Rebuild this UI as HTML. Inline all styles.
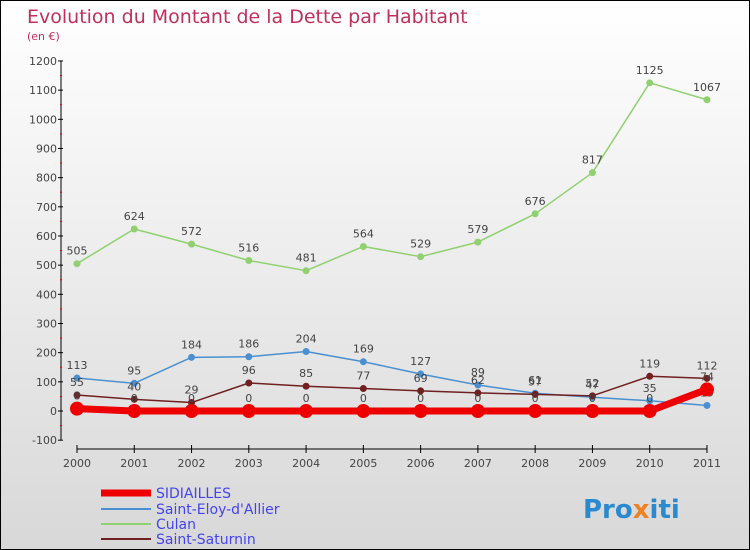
<!DOCTYPE html>
<html><head><meta charset="utf-8"><style>
body{margin:0}
#c{width:750px;height:550px;position:relative;box-sizing:border-box;border:1px solid #000;background:linear-gradient(#fff,#d8d8d8);font-family:"DejaVu Sans","Liberation Sans",sans-serif;overflow:hidden}
text{font-family:"DejaVu Sans","Liberation Sans",sans-serif}
</style></head><body>
<div id="c">
<svg id="s" width="750" height="550">
<text x="26" y="22" font-size="19" fill="#c0305a">Evolution du Montant de la Dette par Habitant</text>
<text x="26" y="39" font-size="11" fill="#c0305a">(en €)</text>
<g id="axes"></g><g id="series"></g>
<g>
<line x1="100" y1="492" x2="150" y2="492" stroke="#e00" stroke-width="7"/><text x="155" y="497" font-size="14" fill="#4444ee">SIDIAILLES</text>
<line x1="100" y1="508" x2="150" y2="508" stroke="#4a90d0" stroke-width="2"/><text x="155" y="513" font-size="14" fill="#4444ee">Saint-Eloy-d'Allier</text>
<line x1="100" y1="523" x2="150" y2="523" stroke="#90d070" stroke-width="2"/><text x="155" y="528" font-size="14" fill="#4444ee">Culan</text>
<line x1="100" y1="538" x2="150" y2="538" stroke="#702020" stroke-width="2"/><text x="155" y="543" font-size="14" fill="#4444ee">Saint-Saturnin</text>
</g>
<text x="582" y="517" font-size="26" font-weight="bold" fill="#2a8ad0">Pro<tspan fill="#f08020">x</tspan>iti</text>
</svg></div>
<script>
const years=[2000,2001,2002,2003,2004,2005,2006,2007,2008,2009,2010,2011];
const sidiailles=[8,0,0,0,0,0,0,0,0,0,0,74];
const saintEloy=[113,95,184,186,204,169,127,89,61,47,35,19];
const culan=[505,624,572,516,481,564,529,579,676,817,1125,1067];
const saintSaturnin=[55,40,29,96,85,77,69,62,57,52,119,112];
const yTicks=[-100,0,100,200,300,400,500,600,700,800,900,1000,1100,1200];
const NS="http://www.w3.org/2000/svg";
const X=i=>76+i*57.27, Y=v=>410-v*0.2917;
function mk(t,a,p){const e=document.createElementNS(NS,t);for(const k in a)e.setAttribute(k,a[k]);p.appendChild(e);return e;}
const ax=document.getElementById('axes');
mk('line',{x1:60,y1:Y(1200),x2:60,y2:Y(-100),stroke:'#000'},ax);
mk('line',{x1:X(0),y1:448,x2:X(11),y2:448,stroke:'#000'},ax);
yTicks.forEach(v=>{mk('line',{x1:57,y1:Y(v),x2:62,y2:Y(v),stroke:'#000'},ax);
 if(v<1200)mk('line',{x1:59,y1:Y(v+50),x2:61,y2:Y(v+50),stroke:'#e00'},ax);
 const t=mk('text',{x:56,y:Y(v)+4,'font-size':11,fill:'#444','text-anchor':'end'},ax);t.textContent=v;
 
 });
years.forEach((y,i)=>{mk('line',{x1:X(i),y1:444,x2:X(i),y2:452,stroke:'#000'},ax);
 const t=mk('text',{x:X(i),y:466,'font-size':11,fill:'#444','text-anchor':'middle'},ax);t.textContent=y;
 
 });
const sg=document.getElementById('series');
function draw(name,vals,col,w,r){
 const g=mk('g',{},sg);
 
 
 mk('polyline',{points:vals.map((v,i)=>X(i)+','+Y(v)).join(' '),fill:'none',stroke:col,'stroke-width':w,'stroke-linejoin':'round'},g);
 vals.forEach((v,i)=>{const c=mk('circle',{cx:X(i),cy:Y(v),r:r,fill:col},g);
  
  
  const t=mk('text',{x:X(i),y:Y(v)-9,'font-size':11,fill:'#444','text-anchor':'middle'},g);t.textContent=v;});
}
draw('culan-series',culan,'#90d070',1.5,3.5);
draw('saint-eloy-series',saintEloy,'#4a90d0',1.5,3.5);
draw('saint-saturnin-series',saintSaturnin,'#702020',1.5,3.5);
draw('sidiailles-series',sidiailles,'#e00',7,7);
</script>
</body></html>
